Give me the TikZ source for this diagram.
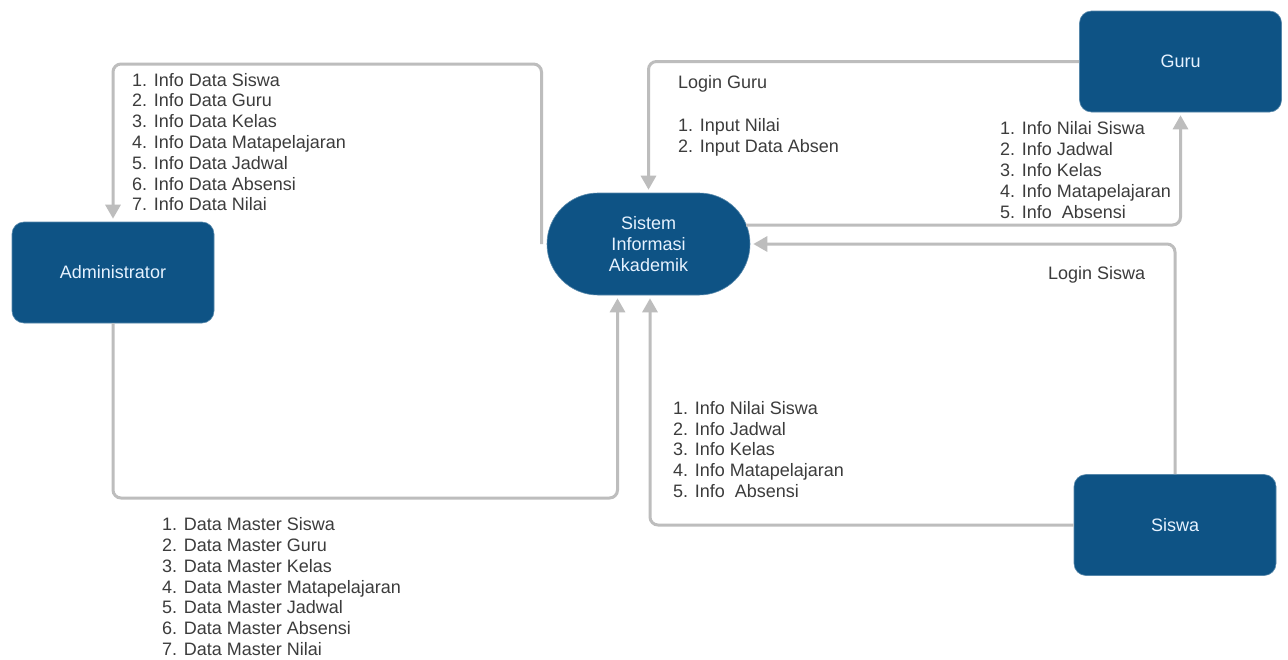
\documentclass[tikz,border=0pt]{standalone}
\usepackage{fontspec}
\setmainfont{Liberation Sans}
\usetikzlibrary{arrows.meta,shapes.misc}
\definecolor{boxblue}{HTML}{0E5385}
\definecolor{boxtext}{HTML}{E6F2FF}
\definecolor{linegray}{HTML}{BDBDBD}
\definecolor{txtgray}{HTML}{3C3C3C}
\tikzset{
  actor/.style={rectangle, rounded corners=12pt, fill=boxblue, draw=boxblue!70!white, line width=0.6pt,
    minimum width=202pt, minimum height=101pt, inner sep=0pt, text=boxtext,
    font=\fontsize{18}{21}\selectfont},
  sysnode/.style={rounded rectangle, fill=boxblue, draw=boxblue!70!white, line width=0.6pt,
    minimum width=203pt, minimum height=102pt, inner sep=0pt, text=boxtext, align=center,
    font=\fontsize{18}{21}\selectfont},
  conn/.style={draw=linegray, line width=3pt, rounded corners=8pt},
  arr/.style={-{Triangle[length=14pt,width=15pt]}, shorten >=3pt},
  lst/.style={inner sep=0pt, align=left, text=txtgray, font=\fontsize{18}{20.8}\selectfont},
}
\begin{document}
\begin{tikzpicture}[x=1pt,y=-1pt]
\useasboundingbox (0,0) rectangle (1288,659);
\fill[white] (0,0) rectangle (1288,659);

\node[actor] (A) at (113,272.5) {Administrator};
\node[actor] (G) at (1180.5,61.5) {Guru};
\node[actor] (W) at (1175,525) {Siswa};
\node[sysnode] (S) at (648.5,244) {Sistem\\Informasi\\Akademik};

\coordinate (aTop) at (541.5,64);
\coordinate (aBot) at (617.5,498);
\coordinate (sGuru) at (746,225);
\coordinate (wX) at (650,0);

% Sistem -> Administrator
\draw[conn,arr] (S.west -| aTop) -- (aTop) -| (A.north);
% Administrator -> Sistem
\draw[conn,arr] (A.south) |- (aBot) -- (S.south -| aBot);
% Siswa -> Sistem (info)
\draw[conn,arr] (W.west) -| (S.south -| wX);
% Siswa -> Sistem (login)
\draw[conn,arr] (W.north) |- (S.east);
% Sistem -> Guru
\draw[conn,arr] (sGuru) -| (G.south);
% Guru -> Sistem
\draw[conn,arr] (G.west) -| (S.north);

% anchor base = baseline of the last line
\node[lst, anchor=base west] (L1) at (132,210.8) {1. Info Data Siswa\\2. Info Data Guru\\3. Info Data Kelas\\4. Info Data Matapelajaran\\5. Info Data Jadwal\\6. Info Data Absensi\\7. Info Data Nilai};
\node[lst, anchor=base west] (L2) at (162,655.5) {1. Data Master Siswa\\2. Data Master Guru\\3. Data Master Kelas\\4. Data Master Matapelajaran\\5. Data Master Jadwal\\6. Data Master Absensi\\7. Data Master Nilai};
\node[lst, anchor=base west] (L3) at (678,88) {Login Guru};
\node[lst, anchor=base west] (L4) at (678,152.5) {1. Input Nilai\\2. Input Data Absen};
\node[lst, anchor=base west] (L5) at (1000,218) {1. Info Nilai Siswa\\2. Info Jadwal\\3. Info Kelas\\4. Info Matapelajaran\\5. Info\ \ Absensi};
\node[lst, anchor=base west] (L6) at (1048,279) {Login Siswa};
\node[lst, anchor=base west] (L7) at (673,497.5) {1. Info Nilai Siswa\\2. Info Jadwal\\3. Info Kelas\\4. Info Matapelajaran\\5. Info\ \ Absensi};
\end{tikzpicture}
\end{document}
